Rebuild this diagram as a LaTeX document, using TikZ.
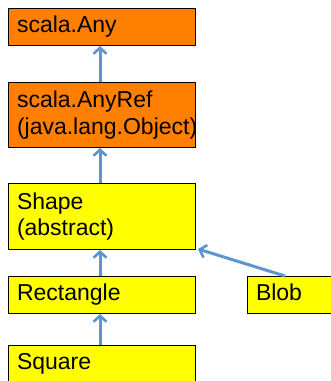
\documentclass[tikz,border=0pt]{standalone}
\usepackage{fontspec}
\setmainfont{Liberation Sans}
\usepackage{xcolor}
\usetikzlibrary{arrows.meta}
\definecolor{boxorange}{RGB}{255,128,0}
\definecolor{boxyellow}{RGB}{255,255,0}
\definecolor{arrowblue}{RGB}{92,150,208}
\tikzset{cls/.style={draw=black, line width=1pt, anchor=north west, align=left,
   text width=170pt, inner xsep=8.5pt, inner ysep=0pt,
   font=\fontsize{23}{26.5}\selectfont},
 root/.style={cls, fill=boxorange},
 sub/.style={cls, fill=boxyellow},
 oneline/.style={minimum height=37pt, text height=16.5pt, text depth=5pt},
 inherits/.style={draw=arrowblue, line width=3pt,
   -{Straight Barb[length=6pt, width=13pt, line width=2.6pt]}},
 }

\begin{document}
\begin{tikzpicture}[x=1pt, y=-1pt]
        \useasboundingbox (0, 0) rectangle (331, 381);
        \node[root, oneline] (any) at (8, 8) {scala.Any};
        \node[root, minimum height=65pt] (anyref) at (8, 82) {scala.AnyRef\\(java.lang.Object)};
        \node[sub, minimum height=66pt] (shape) at (8, 183) {Shape\\(abstract)};
        \node[sub, oneline] (rect) at (8, 276) {Rectangle};
        \node[sub, oneline, text width=73pt] (blob) at (247, 276) {Blob};
        \node[sub, oneline] (square) at (8, 345) {Square};
        % subclass arrows
        \draw [inherits] ([xshift=-2pt]anyref.north) -- ([xshift=-2pt]any.south);
        \draw [inherits] ([xshift=-2pt]shape.north) -- ([xshift=-2pt]anyref.south);
        \draw [inherits] ([xshift=-2pt]rect.north) -- ([xshift=-2pt]shape.south);
        \draw [inherits] ([xshift=-2pt]square.north) -- ([xshift=-2pt]rect.south);
        \draw [inherits] ([xshift=38pt]blob.north west) -- ([shift={(2pt,1pt)}]shape.south east);
    \end{tikzpicture}
\end{document}
